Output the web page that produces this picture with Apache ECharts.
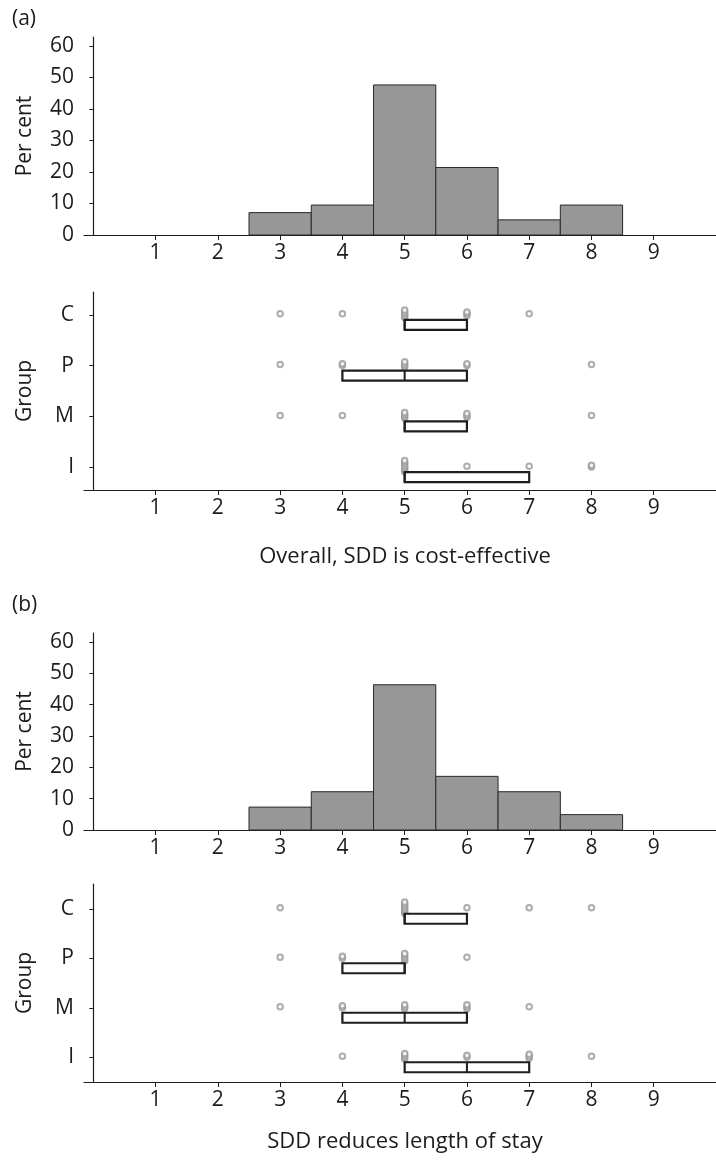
<!DOCTYPE html>
<html><head><meta charset="utf-8">
<script src="https://cdn.jsdelivr.net/npm/echarts@6/dist/echarts.min.js"></script>
<style>html,body{margin:0;padding:0;background:#fff}#c{width:716px;height:1163px}</style>
</head><body><div id="c"></div>
<script>
// ---------- data ----------
const scoreTicks = [1, 2, 3, 4, 5, 6, 7, 8, 9];
const percentTicks = [0, 10, 20, 30, 40, 50, 60];
const groups = ['I', 'M', 'P', 'C'];           // bottom to top
const groupTicks = [1, 2, 3, 4];
const scores = [1, 2, 3, 4, 5, 6, 7, 8, 9];

// (a) Overall, SDD is cost-effective
const titleA = 'Overall, SDD is cost-effective';
const binsA = [3, 4, 5, 6, 7, 8];
const pctA = [7.1, 9.5, 47.6, 21.4, 4.8, 9.5];
const countsA_I = [0, 0, 0, 0, 7, 1, 1, 2, 0];
const countsA_M = [0, 0, 1, 1, 4, 3, 0, 1, 0];
const countsA_P = [0, 0, 1, 2, 4, 2, 0, 1, 0];
const countsA_C = [0, 0, 1, 1, 5, 3, 1, 0, 0];
const q1A = [5, 5, 4, 5];
const medA = [5, 5, 5, 5];
const q3A = [7, 6, 6, 6];

// (b) SDD reduces length of stay
const titleB = 'SDD reduces length of stay';
const binsB = [3, 4, 5, 6, 7, 8];
const pctB = [7.3, 12.2, 46.3, 17.1, 12.2, 4.9];
const countsB_I = [0, 0, 0, 1, 4, 2, 3, 1, 0];
const countsB_M = [0, 0, 1, 2, 3, 3, 1, 0, 0];
const countsB_P = [0, 0, 1, 2, 5, 1, 0, 0, 0];
const countsB_C = [0, 0, 1, 0, 7, 1, 1, 1, 0];
const q1B = [5, 4, 4, 5];
const medB = [6, 5, 5, 5];
const q3B = [7, 6, 5, 6];

// ---------- helpers ----------
const FONT = '"Open Sans", "Noto Sans", sans-serif';
const INK = '#1f1b1c';
const FS = 21;

function dotData(countLists) {
  const out = [];
  countLists.forEach((counts, gi) => {
    counts.forEach((n, si) => {
      for (let k = 0; k < n; k++) {
        out.push({ value: [scores[si], groupTicks[gi]], symbolOffset: [0, -(k - (n - 1) / 2) * 1.9 - 1] });
      }
    });
  });
  return out;
}

function histSeries(idx, bins, pct) {
  return {
    type: 'custom', xAxisIndex: idx, yAxisIndex: idx,
    data: bins.map((b, i) => [b, pct[i]]),
    renderItem: function (params, api) {
      const x = api.value(0), y = api.value(1);
      const p0 = api.coord([x - 0.5, y]);
      const p1 = api.coord([x + 0.5, 0]);
      return { type: 'rect', shape: { x: p0[0], y: p0[1], width: p1[0] - p0[0], height: p1[1] - p0[1] },
        style: { fill: '#979797', stroke: '#2a2a2a', lineWidth: 1 } };
    }
  };
}

function boxSeries(idx, q1, med, q3) {
  return {
    type: 'custom', xAxisIndex: idx, yAxisIndex: idx, z: 5,
    data: groupTicks.map((g, i) => [q1[i], med[i], q3[i], g]),
    renderItem: function (params, api) {
      const a = api.coord([api.value(0), api.value(3)]);
      const m = api.coord([api.value(1), api.value(3)]);
      const b = api.coord([api.value(2), api.value(3)]);
      const top = a[1] + 5, h = 10;
      return { type: 'group', children: [
        { type: 'rect', shape: { x: a[0], y: top, width: b[0] - a[0], height: h },
          style: { fill: '#fff', stroke: '#1e1e1e', lineWidth: 2.2 } },
        { type: 'line', shape: { x1: m[0], y1: top, x2: m[0], y2: top + h },
          style: { stroke: '#1e1e1e', lineWidth: 2 } }
      ] };
    }
  };
}

function dotSeries(idx, countLists) {
  return {
    type: 'scatter', xAxisIndex: idx, yAxisIndex: idx, z: 3,
    symbol: 'emptyCircle', symbolSize: 5.5,
    itemStyle: { color: '#999', borderColor: '#999', borderWidth: 1.1 },
    data: dotData(countLists), silent: true
  };
}

function xAxisDef(idx, name, gap) {
  return {
    type: 'value', gridIndex: idx, min: -0.15, max: 10,
    axisLine: { show: true, onZero: false, lineStyle: { color: INK, width: 1.2 } },
    axisTick: { show: true, customValues: scoreTicks, length: 5, lineStyle: { color: INK } },
    axisLabel: { customValues: scoreTicks, fontSize: FS, color: INK, fontFamily: FONT, margin: 8 },
    splitLine: { show: false },
    name: name || '', nameLocation: 'middle', nameGap: gap || 50,
    nameTextStyle: { fontSize: 22, color: INK, fontFamily: FONT, padding: [0, 0, 0, 10] }
  };
}

function yHistDef(idx) {
  return {
    type: 'value', gridIndex: idx, min: 0, max: 62.8,
    axisLine: { show: true, lineStyle: { color: INK, width: 1.2 } },
    axisTick: { show: true, customValues: percentTicks, length: 4, lineStyle: { color: INK } },
    axisLabel: { customValues: percentTicks, fontSize: FS, color: INK, fontFamily: FONT, margin: 10 },
    splitLine: { show: false },
    name: 'Per cent', nameLocation: 'middle', nameGap: 48,
    nameTextStyle: { fontSize: FS, color: INK, fontFamily: FONT }
  };
}

function yBoxDef(idx, mn, mx) {
  return {
    type: 'value', gridIndex: idx, min: mn, max: mx,
    axisLine: { show: true, lineStyle: { color: INK, width: 1.2 } },
    axisTick: { show: true, customValues: groupTicks, length: 4, lineStyle: { color: INK } },
    axisLabel: { customValues: groupTicks, fontSize: FS, color: INK, fontFamily: FONT, margin: 10,
      formatter: v => groups[groupTicks.indexOf(v)] || '' },
    splitLine: { show: false },
    name: 'Group', nameLocation: 'middle', nameGap: 48,
    nameTextStyle: { fontSize: FS, color: INK, fontFamily: FONT }
  };
}

const chart = echarts.init(document.getElementById('c'));
chart.setOption({
  animation: false,
  backgroundColor: '#fff',
  grid: [
    { left: 84, right: 0, top: 37, height: 198 },
    { left: 84, right: 0, top: 292, height: 198 },
    { left: 84, right: 0, top: 633, height: 197 },
    { left: 84, right: 0, top: 884, height: 198 }
  ],
  graphic: [
    { type: 'text', left: 12, top: 9, style: { text: '(a)', fontSize: FS, fill: INK, fontFamily: FONT } },
    { type: 'text', left: 12, top: 595, style: { text: '(b)', fontSize: FS, fill: INK, fontFamily: FONT } }
  ],
  xAxis: [xAxisDef(0), xAxisDef(1, titleA, 56), xAxisDef(2), xAxisDef(3, titleB, 49)],
  yAxis: [yHistDef(0), yBoxDef(1, 0.55, 4.45), yHistDef(2), yBoxDef(3, 0.5, 4.5)],
  series: [
    histSeries(0, binsA, pctA),
    dotSeries(1, [countsA_I, countsA_M, countsA_P, countsA_C]),
    boxSeries(1, q1A, medA, q3A),
    histSeries(2, binsB, pctB),
    dotSeries(3, [countsB_I, countsB_M, countsB_P, countsB_C]),
    boxSeries(3, q1B, medB, q3B)
  ]
});
</script></body></html>
